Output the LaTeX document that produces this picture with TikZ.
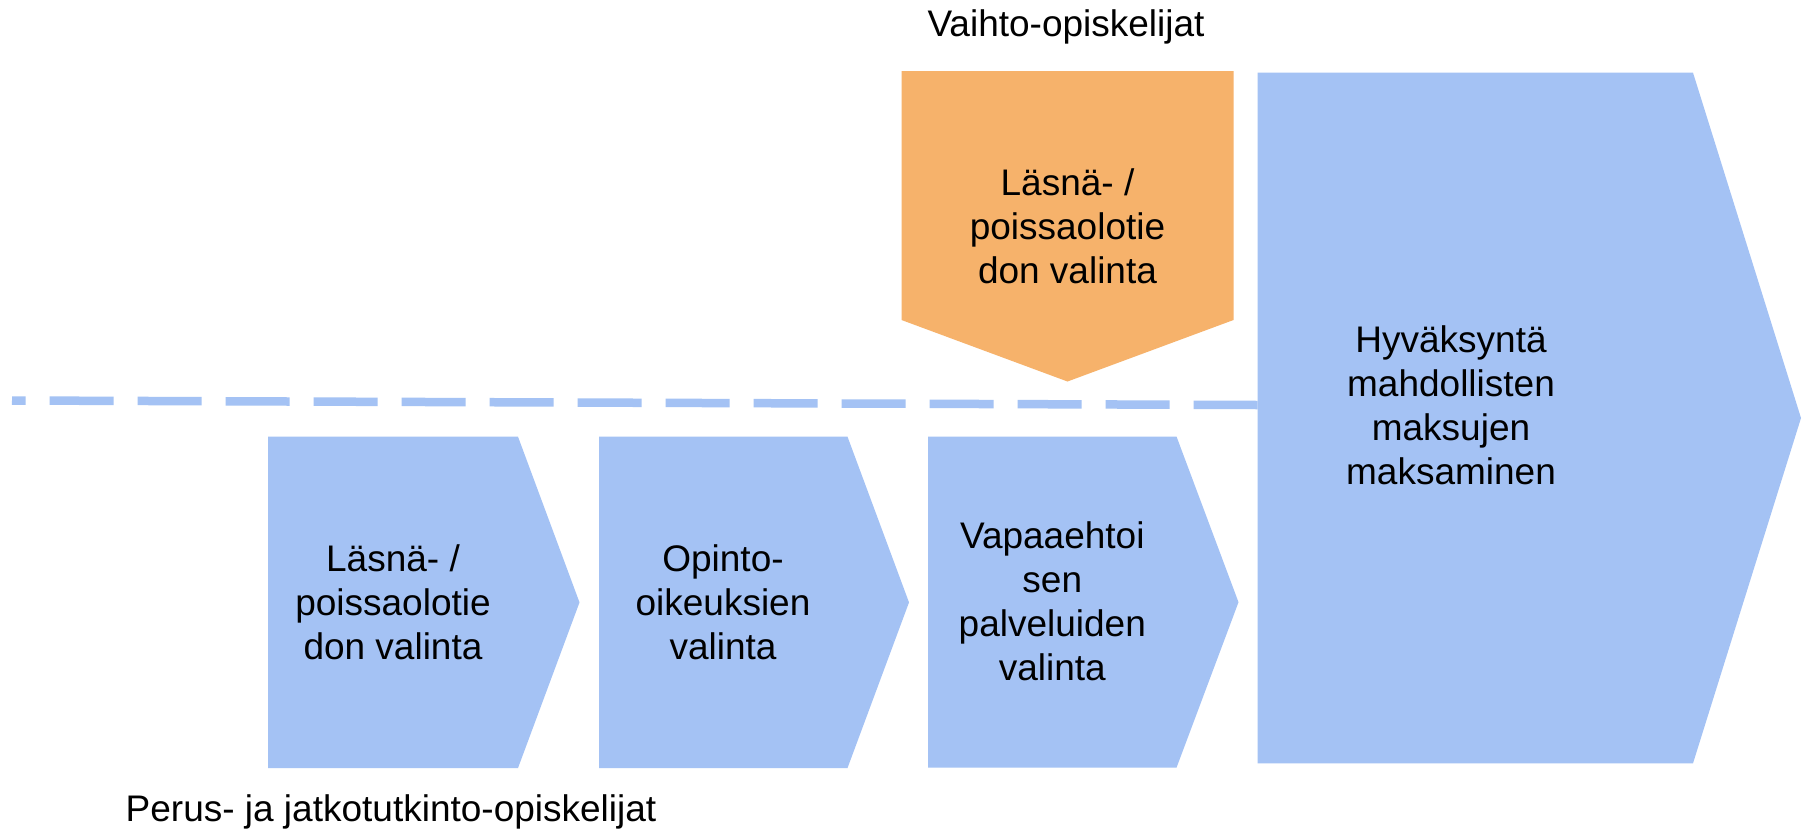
\documentclass[tikz,border=0pt]{standalone}
\usepackage{fontspec}
\setmainfont{Liberation Sans}
\definecolor{stepblue}{HTML}{A4C2F4}
\definecolor{steporange}{HTML}{F6B26B}
\begin{document}
\begin{tikzpicture}[x=0.5pt,y=-0.5pt,
  bluefill/.style={fill=stepblue},
  orangefill/.style={fill=steporange},
  boxtext/.style={inner sep=0pt,align=center,text=black,font=\fontsize{18.5}{22}\selectfont},
  labeltext/.style={inner sep=0pt,anchor=base,text=black,font=\fontsize{18.5}{22}\selectfont},
  timeline/.style={draw=stepblue,line width=4.25pt,dash pattern=on 32pt off 12pt}]
\fill[white] (0,0) rectangle (1806,831);
\useasboundingbox (0,0) rectangle (1806,831);

% dashed time line (drawn from the big box leftwards)
\coordinate (lineR) at (1257.7,405);
\coordinate (lineL) at (12,400.5);
\draw[timeline] (lineR) -- (lineL);

% bottom chevrons
\fill[bluefill] (268,436.7) -- (518,436.7) -- (579.5,602.4) -- (518,768) -- (268,768) -- cycle;
\fill[bluefill] (599,436.7) -- (847.5,436.7) -- (909,602.4) -- (847.5,768) -- (599,768) -- cycle;
\fill[bluefill] (928,436.5) -- (1176.5,436.5) -- (1238.5,602.2) -- (1176.5,767.7) -- (928,767.7) -- cycle;

% big chevron
\fill[bluefill] (1257.5,72.7) -- (1693,72.7) -- (1801,418) -- (1693,763.3) -- (1257.5,763.3) -- cycle;

% orange pentagon
\fill[orangefill] (901.5,71) -- (1233.5,71) -- (1233.5,320) -- (1067.5,381.5) -- (901.5,320) -- cycle;

% texts
\node[boxtext] (t1) at (393,602.3) {Läsnä- /\\poissaolotie\\don valinta};
\node[boxtext] (t2) at (723,602.3) {Opinto-\\oikeuksien\\valinta};
\node[boxtext] (t3) at (1052.3,601) {Vapaaehtoi\\sen\\palveluiden\\valinta};
\node[boxtext] (t4) at (1451,405) {Hyväksyntä\\mahdollisten\\maksujen\\maksaminen};
\node[boxtext] (t5) at (1067.5,226) {Läsnä- /\\poissaolotie\\don valinta};

\node[labeltext] (lab1) at (1066,36.7) {Vaihto-opiskelijat};
\node[labeltext] (lab2) at (391,821.7) {Perus- ja jatkotutkinto-opiskelijat};
\end{tikzpicture}
\end{document}
